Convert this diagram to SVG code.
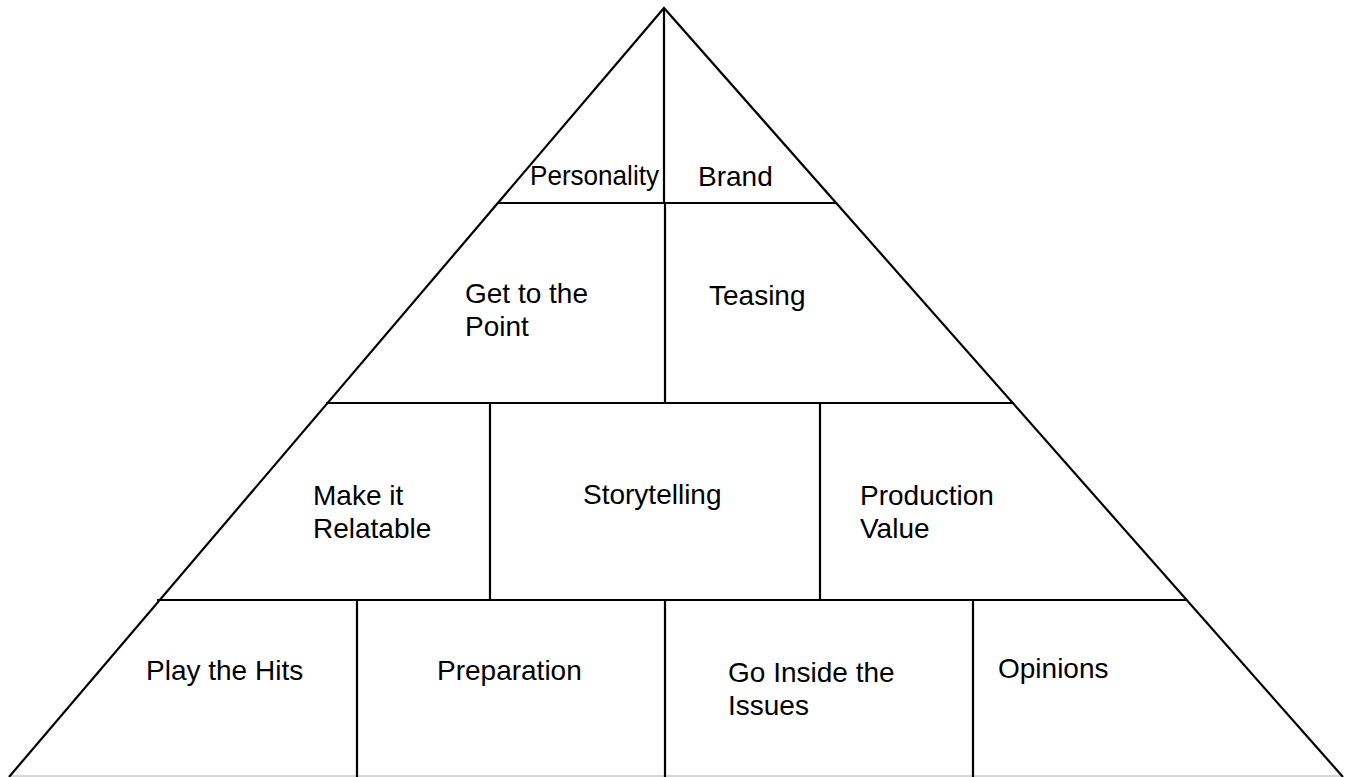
<svg xmlns="http://www.w3.org/2000/svg" width="1346" height="777" viewBox="0 0 1346 777">
  <style>
    .edge { stroke: #000; stroke-width: 2.2; fill: none; stroke-linecap: butt; }
    .base { stroke: #c8c8c8; stroke-width: 1.5; }
    .lbl { font-family: "Liberation Sans", Arial, sans-serif; font-size: 28px; fill: #000; }
  </style>
  <rect width="1346" height="777" fill="#fff"/>

  <!-- pyramid outline and dividers -->
  <g id="connectors">
    <line class="base" x1="9" y1="776" x2="1343" y2="776"/>
    <polyline class="edge" points="9,777 664,8 1343,777"/>
    <!-- tier boundaries -->
    <line class="edge" x1="497" y1="203" x2="836" y2="203"/>
    <line class="edge" x1="326" y1="403" x2="1014" y2="403"/>
    <line class="edge" x1="157" y1="600" x2="1187" y2="600"/>
    <!-- vertical splits -->
    <line class="edge" x1="664" y1="8" x2="664" y2="203"/>
    <line class="edge" x1="665" y1="203" x2="665" y2="403"/>
    <line class="edge" x1="490" y1="403" x2="490" y2="600"/>
    <line class="edge" x1="820" y1="403" x2="820" y2="600"/>
    <line class="edge" x1="357" y1="600" x2="357" y2="777"/>
    <line class="edge" x1="665" y1="600" x2="665" y2="777"/>
    <line class="edge" x1="973" y1="600" x2="973" y2="777"/>
  </g>

  <g id="personality"><text class="lbl" x="530" y="185" textLength="129" lengthAdjust="spacingAndGlyphs">Personality</text></g>
  <g id="brand"><text class="lbl" x="698" y="186">Brand</text></g>

  <g id="get-to-the-point"><text class="lbl" x="465" y="303">Get to the</text><text class="lbl" x="465" y="336">Point</text></g>
  <g id="teasing"><text class="lbl" x="709" y="305">Teasing</text></g>

  <g id="make-it-relatable"><text class="lbl" x="313" y="505">Make it</text><text class="lbl" x="313" y="538">Relatable</text></g>
  <g id="storytelling"><text class="lbl" x="583" y="504">Storytelling</text></g>
  <g id="production-value"><text class="lbl" x="860" y="505">Production</text><text class="lbl" x="860" y="538">Value</text></g>

  <g id="play-the-hits"><text class="lbl" x="146" y="680">Play the Hits</text></g>
  <g id="preparation"><text class="lbl" x="437" y="680">Preparation</text></g>
  <g id="go-inside-the-issues"><text class="lbl" x="728" y="682">Go Inside the</text><text class="lbl" x="728" y="715">Issues</text></g>
  <g id="opinions"><text class="lbl" x="998" y="678">Opinions</text></g>
</svg>
